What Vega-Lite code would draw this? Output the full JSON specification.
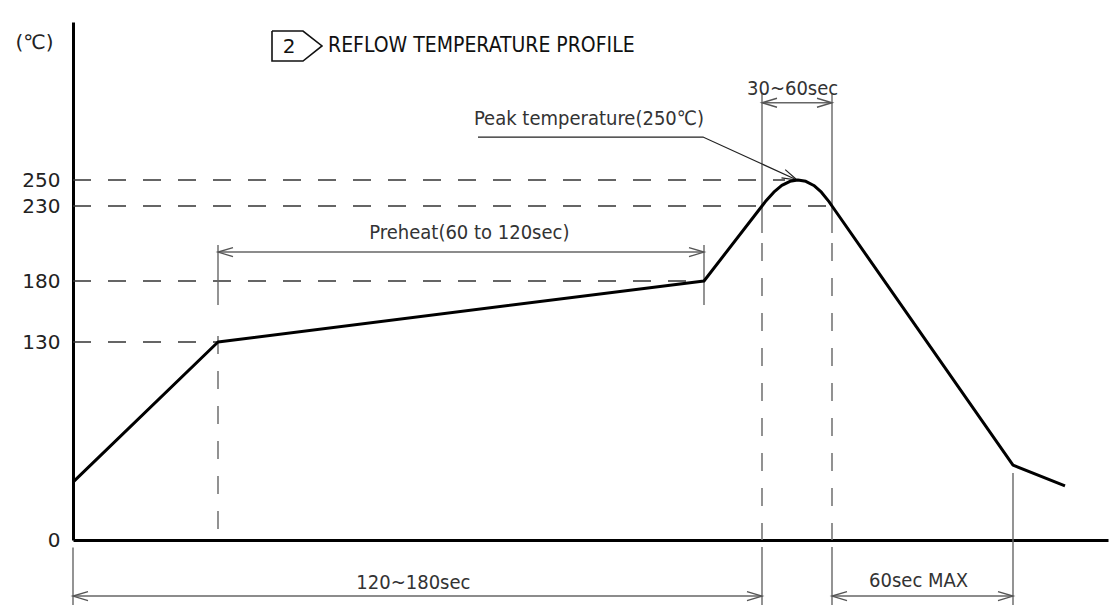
{
  "$schema": "https://vega.github.io/schema/vega-lite/v6.json",
  "width": 1035,
  "height": 518,
  "autosize": {"type": "none"},
  "padding": {"left": 73, "top": 22, "right": 4, "bottom": 68},
  "background": "white",
  "config": {"view": {"stroke": null}},
  "datasets": {
    "profile": [
      {"t": 0, "v": 38},
      {"t": 36.25, "v": 130},
      {"t": 157.75, "v": 180},
      {"t": 172.25, "v": 230},
      {"t": 173.1, "v": 233.4},
      {"t": 175.2, "v": 240.6},
      {"t": 177.2, "v": 245.8},
      {"t": 179.25, "v": 249.0},
      {"t": 181.2, "v": 250},
      {"t": 183.2, "v": 249.0},
      {"t": 185.2, "v": 245.8},
      {"t": 187.1, "v": 240.6},
      {"t": 189.0, "v": 233.4},
      {"t": 189.75, "v": 230},
      {"t": 235, "v": 49.2},
      {"t": 248, "v": 35.5}
    ],
    "hguides": [
      {"t": 0, "t2": 178, "v": 250},
      {"t": 0, "t2": 189.75, "v": 230},
      {"t": 0, "t2": 157.75, "v": 180},
      {"t": 0, "t2": 36.25, "v": 130}
    ],
    "vdashed": [
      {"t": 36.25, "v": 134.9, "v2": 0},
      {"t": 172.25, "v": 205.3, "v2": 0},
      {"t": 189.75, "v": 205.3, "v2": 0}
    ],
    "extlines": [
      {"t": 0, "v": -5, "v2": -42.7},
      {"t": 36.25, "v": 204, "v2": 160.3},
      {"t": 157.75, "v": 204, "v2": 160.3},
      {"t": 172.25, "v": 310.6, "v2": 212},
      {"t": 189.75, "v": 310.6, "v2": 212},
      {"t": 172.25, "v": -4.6, "v2": -42.7},
      {"t": 189.75, "v": -4.6, "v2": -42.7},
      {"t": 235, "v": 44, "v2": -42.7}
    ],
    "dims": [
      {"name": "Preheat", "t": 36.25, "t2": 157.75, "v": 199.3},
      {"name": "Peak window", "t": 172.25, "t2": 189.75, "v": 303.8},
      {"name": "Total", "t": 0, "t2": 172.25, "v": -36.8},
      {"name": "Cooling", "t": 189.75, "t2": 235, "v": -36.8}
    ],
    "labels": [
      {"text": "Preheat(60 to 120sec)", "t": 99.1, "v": 212},
      {"text": "30~60sec", "t": 179.9, "v": 313.4},
      {"text": "120~180sec", "t": 85.1, "v": -28.2},
      {"text": "60sec MAX", "t": 211.4, "v": -26.9},
      {"text": "Peak temperature(250℃)", "t": 129, "v": 292.8}
    ],
    "leader": [
      {"i": 0, "t": 101.25, "v": 279.9},
      {"i": 1, "t": 157.5, "v": 279.9},
      {"i": 2, "t": 181, "v": 250}
    ],
    "titlebox": [
      {"i": 0, "t": 49.75, "v": 353.7},
      {"i": 1, "t": 57.5, "v": 353.7},
      {"i": 2, "t": 62.25, "v": 343.3},
      {"i": 3, "t": 57.5, "v": 332.8},
      {"i": 4, "t": 49.75, "v": 332.8},
      {"i": 5, "t": 49.75, "v": 353.7}
    ]
  },
  "encoding": {
    "x": {
      "field": "t",
      "type": "quantitative",
      "scale": {"domain": [0, 258.75], "nice": false, "zero": false},
      "axis": {"ticks": false, "labels": false, "grid": false, "title": null, "domainColor": "#000", "domainWidth": 3}
    },
    "y": {
      "field": "v",
      "type": "quantitative",
      "scale": {"domain": [0, 130, 180, 230, 250, 360], "range": [518, 320, 259, 184, 158, 0], "nice": false, "zero": false},
      "axis": {
        "values": [0, 130, 180, 230, 250],
        "ticks": false,
        "grid": false,
        "domainColor": "#000",
        "domainWidth": 3,
        "labelFont": "DejaVu Sans",
        "labelFontSize": 20,
        "labelColor": "#222",
        "labelPadding": 13,
        "labelFlush": false,
        "labelOverlap": false,
        "title": "(℃)",
        "titleAngle": 0,
        "titleX": -39,
        "titleY": 20,
        "titleAlign": "center",
        "titleBaseline": "middle",
        "titleFont": "DejaVu Sans",
        "titleFontSize": 20,
        "titleFontWeight": "normal",
        "titleColor": "#222"
      }
    }
  },
  "layer": [
    {
      "data": {"name": "hguides"},
      "mark": {"type": "rule", "color": "#333", "strokeWidth": 1.6, "strokeDash": [18, 17]},
      "encoding": {"x2": {"field": "t2"}}
    },
    {
      "data": {"name": "vdashed"},
      "mark": {"type": "rule", "color": "#777", "strokeWidth": 1.6, "strokeDash": [18, 17]},
      "encoding": {"y2": {"field": "v2"}}
    },
    {
      "data": {"name": "extlines"},
      "mark": {"type": "rule", "color": "#666", "strokeWidth": 1.4},
      "encoding": {"y2": {"field": "v2"}}
    },
    {
      "data": {"name": "dims"},
      "mark": {"type": "rule", "color": "#666", "strokeWidth": 1.4},
      "encoding": {"x2": {"field": "t2"}}
    },
    {
      "data": {"name": "dims"},
      "mark": {"type": "point", "shape": "M2,-0.6L0,0L2,0.6", "filled": false, "size": 225, "color": "#555", "strokeWidth": 1.4, "opacity": 1}
    },
    {
      "data": {"name": "dims"},
      "mark": {"type": "point", "shape": "M-2,-0.6L0,0L-2,0.6", "filled": false, "size": 225, "color": "#555", "strokeWidth": 1.4, "opacity": 1},
      "encoding": {"x": {"field": "t2", "type": "quantitative"}}
    },
    {
      "data": {"name": "leader"},
      "mark": {"type": "line", "color": "#222", "strokeWidth": 1.2},
      "encoding": {"order": {"field": "i", "type": "quantitative"}}
    },
    {
      "data": {"name": "leader"},
      "transform": [{"filter": "datum.i == 2"}],
      "mark": {"type": "point", "shape": "M-2,-0.6L0,0L-2,0.6", "filled": false, "size": 225, "color": "#222", "strokeWidth": 1.2, "opacity": 1, "angle": 24.6}
    },
    {
      "data": {"name": "profile"},
      "mark": {"type": "line", "color": "#000", "strokeWidth": 3, "strokeJoin": "round"}
    },
    {
      "data": {"name": "labels"},
      "mark": {"type": "text", "font": "Liberation Sans Narrow, DejaVu Sans Condensed, sans-serif", "fontSize": 20, "color": "#333", "align": "center", "baseline": "middle"},
      "encoding": {"text": {"field": "text"}}
    },
    {
      "data": {"name": "titlebox"},
      "mark": {"type": "line", "color": "#111", "strokeWidth": 1.6, "strokeJoin": "miter"},
      "encoding": {"order": {"field": "i", "type": "quantitative"}}
    },
    {
      "data": {"values": [{"text": "2", "t": 54, "v": 342.3}]},
      "mark": {"type": "text", "font": "DejaVu Sans", "fontSize": 20, "color": "#111", "align": "center", "baseline": "middle"},
      "encoding": {"text": {"field": "text"}}
    },
    {
      "data": {"values": [{"text": "REFLOW TEMPERATURE PROFILE", "t": 63.75, "v": 343.3}]},
      "mark": {"type": "text", "font": "Liberation Sans Narrow, DejaVu Sans Condensed, sans-serif", "fontSize": 21, "color": "#111", "align": "left", "baseline": "middle"},
      "encoding": {"text": {"field": "text"}}
    }
  ]
}
